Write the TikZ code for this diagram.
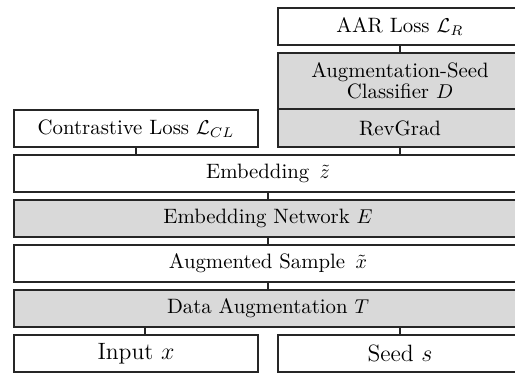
\documentclass[tikz,border=0pt]{standalone}
\usepackage{amsmath}
\begin{document}
\begin{tikzpicture}[x=0.5pt,y=-0.5pt,
  block/.style={draw=black!85,line width=0.65pt,inner sep=0pt,outer sep=0pt,
    minimum height=18.5pt,font=\fontsize{10.4}{12.5}\selectfont,align=center},
  half/.style={block,minimum width=122pt},
  full/.style={block,minimum width=254pt},
  shaded/.style={fill=black!15},
  link/.style={draw=black!85,line width=0.65pt},
  big/.style={font=\fontsize{11.8}{14}\selectfont}]
\useasboundingbox (0,0) rectangle (515,373);
\clip (0,0) rectangle (515,373);

% right column: adversarial branch
\node[half] (aar) at (400,26.5) {AAR Loss $\mathcal{L}_R$};
\node[half,shaded,minimum height=28pt] (cls) at (400,81) {Augmentation-Seed\\[-2pt]Classifier $D$};
\node[half,shaded,minimum height=19pt] (rev) at (400,128) {RevGrad};

% left column: contrastive branch
\node[half] (cl) at (136,128.5) {Contrastive Loss $\mathcal{L}_{CL}$};

% shared trunk
\node[full] (emb) at (268,173.5) {Embedding\, $\tilde{z}$};
\node[full,shaded] (net) at (268,218.5) {Embedding Network $E$};
\node[full] (aug) at (268,263.5) {Augmented Sample\, $\tilde{x}$};
\node[full,shaded] (da) at (268,308.5) {Data Augmentation $T$};

% inputs
\node[half,big] (inp) at (136,353.5) {Input $x$};
\node[half,big] (seed) at (400,353.5) {Seed $s$};

% connectors
\draw[link] (aar.south) -- (cls.north);
\draw[link] (rev.south) -- (rev.south |- emb.north);
\draw[link] (cl.south) -- (cl.south |- emb.north);
\draw[link] (emb.south) -- (net.north);
\draw[link] (net.south) -- (aug.north);
\draw[link] (aug.south) -- (da.north);
\draw[link] ([xshift=4.5pt]inp.north) -- ([xshift=4.5pt]inp.north |- da.south);
\draw[link] (seed.north) -- (seed.north |- da.south);
\end{tikzpicture}
\end{document}
